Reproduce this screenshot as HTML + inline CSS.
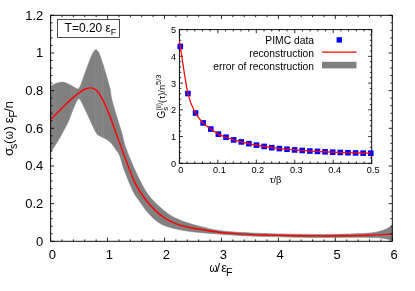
<!DOCTYPE html>
<html>
<head>
<meta charset="utf-8">
<title>Spectral reconstruction</title>
<style>
html,body{margin:0;padding:0;background:#fff;}
body{width:415px;height:291px;overflow:hidden;font-family:"Liberation Sans",sans-serif;}
svg{display:block;}
text{font-family:"Liberation Sans",sans-serif;fill:#000;filter:grayscale(1);}
</style>
</head>
<body>
<svg width="415" height="291" viewBox="0 0 415 291">
<rect width="415" height="291" fill="#fff"/>
<!-- error band -->
<defs><clipPath id="bandclip"><path d="M50.60,86.10 C51.50,85.67 54.13,84.17 56.00,83.50 C57.87,82.83 60.13,82.18 61.80,82.10 C63.47,82.02 64.57,82.52 66.00,83.00 C67.43,83.48 68.98,84.25 70.40,85.00 C71.82,85.75 73.22,86.83 74.50,87.50 C75.78,88.17 77.18,89.17 78.10,89.00 C79.02,88.83 79.28,87.93 80.00,86.50 C80.72,85.07 81.28,83.42 82.40,80.40 C83.52,77.38 85.27,72.27 86.70,68.40 C88.13,64.53 89.87,59.93 91.00,57.20 C92.13,54.47 92.73,53.23 93.50,52.00 C94.27,50.77 94.92,49.97 95.60,49.80 C96.28,49.63 96.93,50.20 97.60,51.00 C98.27,51.80 98.55,51.85 99.60,54.60 C100.65,57.35 102.47,62.92 103.90,67.50 C105.33,72.08 107.13,78.35 108.20,82.10 C109.27,85.85 109.68,87.02 110.30,90.00 C110.92,92.98 110.63,94.90 111.90,100.00 C113.17,105.10 116.18,114.87 117.90,120.60 C119.62,126.33 121.05,130.33 122.20,134.40 C123.35,138.47 123.37,140.65 124.80,145.00 C126.23,149.35 128.65,155.33 130.80,160.50 C132.95,165.67 135.12,170.75 137.70,176.00 C140.28,181.25 143.57,187.75 146.30,192.00 C149.03,196.25 151.08,198.35 154.10,201.50 C157.12,204.65 160.97,208.18 164.40,210.90 C167.83,213.62 170.97,215.85 174.70,217.80 C178.43,219.75 182.58,221.17 186.80,222.60 C191.02,224.03 194.62,225.08 200.00,226.40 C205.38,227.72 211.93,229.47 219.10,230.50 C226.27,231.53 234.52,232.07 243.00,232.60 C251.48,233.13 261.33,233.43 270.00,233.70 C278.67,233.97 286.67,234.08 295.00,234.20 C303.33,234.32 312.50,234.38 320.00,234.40 C327.50,234.42 331.83,234.52 340.00,234.30 C348.17,234.08 361.77,233.78 369.00,233.10 C376.23,232.42 379.68,231.35 383.40,230.20 C387.12,229.05 389.82,226.97 391.30,226.20 C392.78,225.43 392.13,225.70 392.30,225.60 L392.30,240.80 C392.13,240.70 392.78,240.63 391.30,240.20 C389.82,239.77 387.12,238.67 383.40,238.20 C379.68,237.73 376.23,237.53 369.00,237.40 C361.77,237.27 348.17,237.40 340.00,237.40 C331.83,237.40 327.50,237.43 320.00,237.40 C312.50,237.37 303.33,237.33 295.00,237.20 C286.67,237.07 278.67,236.85 270.00,236.60 C261.33,236.35 251.50,236.12 243.00,235.70 C234.50,235.28 226.17,234.65 219.00,234.10 C211.83,233.55 205.08,232.88 200.00,232.40 C194.92,231.92 192.43,231.77 188.50,231.20 C184.57,230.63 180.42,229.95 176.40,229.00 C172.38,228.05 167.83,226.93 164.40,225.50 C160.97,224.07 158.67,222.68 155.80,220.40 C152.93,218.12 149.78,214.82 147.20,211.80 C144.62,208.78 142.32,205.10 140.30,202.30 C138.28,199.50 136.68,197.67 135.10,195.00 C133.52,192.33 132.67,190.62 130.80,186.30 C128.93,181.98 125.77,174.27 123.90,169.10 C122.03,163.93 120.88,158.48 119.60,155.30 C118.32,152.12 117.48,151.90 116.20,150.00 C114.92,148.10 113.52,145.68 111.90,143.90 C110.28,142.12 108.27,140.50 106.50,139.30 C104.73,138.10 102.88,137.62 101.30,136.70 C99.72,135.78 98.28,135.30 97.00,133.80 C95.72,132.30 94.75,130.00 93.60,127.70 C92.45,125.40 91.25,122.50 90.10,120.00 C88.95,117.50 88.05,115.53 86.70,112.70 C85.35,109.87 83.28,105.35 82.00,103.00 C80.72,100.65 80.00,98.68 79.00,98.60 C78.00,98.52 77.17,100.27 76.00,102.50 C74.83,104.73 73.17,109.08 72.00,112.00 C70.83,114.92 70.13,117.38 69.00,120.00 C67.87,122.62 66.98,124.32 65.20,127.70 C63.42,131.08 60.73,136.20 58.30,140.30 C55.87,144.40 51.88,150.30 50.60,152.30 Z"/></clipPath></defs>
<path d="M50.60,86.10 C51.50,85.67 54.13,84.17 56.00,83.50 C57.87,82.83 60.13,82.18 61.80,82.10 C63.47,82.02 64.57,82.52 66.00,83.00 C67.43,83.48 68.98,84.25 70.40,85.00 C71.82,85.75 73.22,86.83 74.50,87.50 C75.78,88.17 77.18,89.17 78.10,89.00 C79.02,88.83 79.28,87.93 80.00,86.50 C80.72,85.07 81.28,83.42 82.40,80.40 C83.52,77.38 85.27,72.27 86.70,68.40 C88.13,64.53 89.87,59.93 91.00,57.20 C92.13,54.47 92.73,53.23 93.50,52.00 C94.27,50.77 94.92,49.97 95.60,49.80 C96.28,49.63 96.93,50.20 97.60,51.00 C98.27,51.80 98.55,51.85 99.60,54.60 C100.65,57.35 102.47,62.92 103.90,67.50 C105.33,72.08 107.13,78.35 108.20,82.10 C109.27,85.85 109.68,87.02 110.30,90.00 C110.92,92.98 110.63,94.90 111.90,100.00 C113.17,105.10 116.18,114.87 117.90,120.60 C119.62,126.33 121.05,130.33 122.20,134.40 C123.35,138.47 123.37,140.65 124.80,145.00 C126.23,149.35 128.65,155.33 130.80,160.50 C132.95,165.67 135.12,170.75 137.70,176.00 C140.28,181.25 143.57,187.75 146.30,192.00 C149.03,196.25 151.08,198.35 154.10,201.50 C157.12,204.65 160.97,208.18 164.40,210.90 C167.83,213.62 170.97,215.85 174.70,217.80 C178.43,219.75 182.58,221.17 186.80,222.60 C191.02,224.03 194.62,225.08 200.00,226.40 C205.38,227.72 211.93,229.47 219.10,230.50 C226.27,231.53 234.52,232.07 243.00,232.60 C251.48,233.13 261.33,233.43 270.00,233.70 C278.67,233.97 286.67,234.08 295.00,234.20 C303.33,234.32 312.50,234.38 320.00,234.40 C327.50,234.42 331.83,234.52 340.00,234.30 C348.17,234.08 361.77,233.78 369.00,233.10 C376.23,232.42 379.68,231.35 383.40,230.20 C387.12,229.05 389.82,226.97 391.30,226.20 C392.78,225.43 392.13,225.70 392.30,225.60 L392.30,240.80 C392.13,240.70 392.78,240.63 391.30,240.20 C389.82,239.77 387.12,238.67 383.40,238.20 C379.68,237.73 376.23,237.53 369.00,237.40 C361.77,237.27 348.17,237.40 340.00,237.40 C331.83,237.40 327.50,237.43 320.00,237.40 C312.50,237.37 303.33,237.33 295.00,237.20 C286.67,237.07 278.67,236.85 270.00,236.60 C261.33,236.35 251.50,236.12 243.00,235.70 C234.50,235.28 226.17,234.65 219.00,234.10 C211.83,233.55 205.08,232.88 200.00,232.40 C194.92,231.92 192.43,231.77 188.50,231.20 C184.57,230.63 180.42,229.95 176.40,229.00 C172.38,228.05 167.83,226.93 164.40,225.50 C160.97,224.07 158.67,222.68 155.80,220.40 C152.93,218.12 149.78,214.82 147.20,211.80 C144.62,208.78 142.32,205.10 140.30,202.30 C138.28,199.50 136.68,197.67 135.10,195.00 C133.52,192.33 132.67,190.62 130.80,186.30 C128.93,181.98 125.77,174.27 123.90,169.10 C122.03,163.93 120.88,158.48 119.60,155.30 C118.32,152.12 117.48,151.90 116.20,150.00 C114.92,148.10 113.52,145.68 111.90,143.90 C110.28,142.12 108.27,140.50 106.50,139.30 C104.73,138.10 102.88,137.62 101.30,136.70 C99.72,135.78 98.28,135.30 97.00,133.80 C95.72,132.30 94.75,130.00 93.60,127.70 C92.45,125.40 91.25,122.50 90.10,120.00 C88.95,117.50 88.05,115.53 86.70,112.70 C85.35,109.87 83.28,105.35 82.00,103.00 C80.72,100.65 80.00,98.68 79.00,98.60 C78.00,98.52 77.17,100.27 76.00,102.50 C74.83,104.73 73.17,109.08 72.00,112.00 C70.83,114.92 70.13,117.38 69.00,120.00 C67.87,122.62 66.98,124.32 65.20,127.70 C63.42,131.08 60.73,136.20 58.30,140.30 C55.87,144.40 51.88,150.30 50.60,152.30 Z" fill="#808080" stroke="#808080" stroke-width="0.6"/>
<path d="M55.0,40 V242 M71.7,40 V242 M74.7,40 V242 M81.6,40 V242 M95.1,40 V242 M98.2,40 V242 M101.5,40 V242 M103.5,40 V242 M147.2,40 V242 M150.7,40 V242 M156.7,40 V242 M170.5,40 V242" stroke="#8f8f8f" stroke-width="0.6" fill="none" clip-path="url(#bandclip)"/>
<!-- reconstruction -->
<path d="M50.80,119.30 C52.05,118.05 55.90,114.20 58.30,111.80 C60.70,109.40 62.90,107.13 65.20,104.90 C67.50,102.67 69.80,100.40 72.10,98.40 C74.40,96.40 77.00,94.38 79.00,92.90 C81.00,91.42 82.25,90.33 84.10,89.50 C85.95,88.67 88.38,88.00 90.10,87.90 C91.82,87.80 93.10,88.22 94.40,88.90 C95.70,89.58 96.75,90.62 97.90,92.00 C99.05,93.38 100.02,94.90 101.30,97.20 C102.58,99.50 104.17,102.65 105.60,105.80 C107.03,108.95 108.57,112.68 109.90,116.10 C111.23,119.52 112.25,122.58 113.60,126.30 C114.95,130.02 116.80,135.12 118.00,138.40 C119.20,141.68 119.23,141.75 120.80,146.00 C122.37,150.25 125.17,158.05 127.40,163.90 C129.63,169.75 132.05,176.42 134.20,181.10 C136.35,185.78 138.13,188.60 140.30,192.00 C142.47,195.40 144.62,198.35 147.20,201.50 C149.78,204.65 152.93,208.18 155.80,210.90 C158.67,213.62 160.97,215.65 164.40,217.80 C167.83,219.95 172.38,222.22 176.40,223.80 C180.42,225.38 184.57,226.38 188.50,227.30 C192.43,228.22 194.92,228.47 200.00,229.30 C205.08,230.13 211.83,231.50 219.00,232.30 C226.17,233.10 234.50,233.63 243.00,234.10 C251.50,234.57 261.33,234.83 270.00,235.10 C278.67,235.37 286.67,235.57 295.00,235.70 C303.33,235.83 312.50,235.88 320.00,235.90 C327.50,235.92 331.83,235.92 340.00,235.80 C348.17,235.68 360.43,235.47 369.00,235.20 C377.57,234.93 387.67,234.37 391.40,234.20" fill="none" stroke="#ff0000" stroke-width="1.45" stroke-linejoin="round"/>
<!-- main frame -->
<path d="M50.60,241.30 v-3.60 M50.60,15.30 v3.60 M61.99,241.30 v-1.90 M61.99,15.30 v1.90 M73.38,241.30 v-1.90 M73.38,15.30 v1.90 M84.77,241.30 v-1.90 M84.77,15.30 v1.90 M96.16,241.30 v-1.90 M96.16,15.30 v1.90 M107.55,241.30 v-3.60 M107.55,15.30 v3.60 M118.94,241.30 v-1.90 M118.94,15.30 v1.90 M130.33,241.30 v-1.90 M130.33,15.30 v1.90 M141.72,241.30 v-1.90 M141.72,15.30 v1.90 M153.11,241.30 v-1.90 M153.11,15.30 v1.90 M164.50,241.30 v-3.60 M164.50,15.30 v3.60 M175.89,241.30 v-1.90 M175.89,15.30 v1.90 M187.28,241.30 v-1.90 M187.28,15.30 v1.90 M198.67,241.30 v-1.90 M198.67,15.30 v1.90 M210.06,241.30 v-1.90 M210.06,15.30 v1.90 M221.45,241.30 v-3.60 M221.45,15.30 v3.60 M232.84,241.30 v-1.90 M232.84,15.30 v1.90 M244.23,241.30 v-1.90 M244.23,15.30 v1.90 M255.62,241.30 v-1.90 M255.62,15.30 v1.90 M267.01,241.30 v-1.90 M267.01,15.30 v1.90 M278.40,241.30 v-3.60 M278.40,15.30 v3.60 M289.79,241.30 v-1.90 M289.79,15.30 v1.90 M301.18,241.30 v-1.90 M301.18,15.30 v1.90 M312.57,241.30 v-1.90 M312.57,15.30 v1.90 M323.96,241.30 v-1.90 M323.96,15.30 v1.90 M335.35,241.30 v-3.60 M335.35,15.30 v3.60 M346.74,241.30 v-1.90 M346.74,15.30 v1.90 M358.13,241.30 v-1.90 M358.13,15.30 v1.90 M369.52,241.30 v-1.90 M369.52,15.30 v1.90 M380.91,241.30 v-1.90 M380.91,15.30 v1.90 M392.30,241.30 v-3.60 M392.30,15.30 v3.60 M50.60,241.30 h3.60 M392.30,241.30 h-3.60 M50.60,233.77 h1.90 M392.30,233.77 h-1.90 M50.60,226.23 h1.90 M392.30,226.23 h-1.90 M50.60,218.70 h1.90 M392.30,218.70 h-1.90 M50.60,211.17 h1.90 M392.30,211.17 h-1.90 M50.60,203.63 h3.60 M392.30,203.63 h-3.60 M50.60,196.10 h1.90 M392.30,196.10 h-1.90 M50.60,188.57 h1.90 M392.30,188.57 h-1.90 M50.60,181.03 h1.90 M392.30,181.03 h-1.90 M50.60,173.50 h1.90 M392.30,173.50 h-1.90 M50.60,165.97 h3.60 M392.30,165.97 h-3.60 M50.60,158.43 h1.90 M392.30,158.43 h-1.90 M50.60,150.90 h1.90 M392.30,150.90 h-1.90 M50.60,143.37 h1.90 M392.30,143.37 h-1.90 M50.60,135.83 h1.90 M392.30,135.83 h-1.90 M50.60,128.30 h3.60 M392.30,128.30 h-3.60 M50.60,120.77 h1.90 M392.30,120.77 h-1.90 M50.60,113.23 h1.90 M392.30,113.23 h-1.90 M50.60,105.70 h1.90 M392.30,105.70 h-1.90 M50.60,98.17 h1.90 M392.30,98.17 h-1.90 M50.60,90.63 h3.60 M392.30,90.63 h-3.60 M50.60,83.10 h1.90 M392.30,83.10 h-1.90 M50.60,75.57 h1.90 M392.30,75.57 h-1.90 M50.60,68.03 h1.90 M392.30,68.03 h-1.90 M50.60,60.50 h1.90 M392.30,60.50 h-1.90 M50.60,52.97 h3.60 M392.30,52.97 h-3.60 M50.60,45.43 h1.90 M392.30,45.43 h-1.90 M50.60,37.90 h1.90 M392.30,37.90 h-1.90 M50.60,30.37 h1.90 M392.30,30.37 h-1.90 M50.60,22.83 h1.90 M392.30,22.83 h-1.90 M50.60,15.30 h3.60 M392.30,15.30 h-3.60" stroke="#000" stroke-width="0.85" fill="none"/>
<rect x="50.6" y="15.3" width="341.70" height="226.00" fill="none" stroke="#000" stroke-width="0.95"/>
<g font-size="13px">
<text x="52.40" y="258.6" text-anchor="middle">0</text>
<text x="109.35" y="258.6" text-anchor="middle">1</text>
<text x="166.30" y="258.6" text-anchor="middle">2</text>
<text x="223.25" y="258.6" text-anchor="middle">3</text>
<text x="280.20" y="258.6" text-anchor="middle">4</text>
<text x="337.15" y="258.6" text-anchor="middle">5</text>
<text x="394.10" y="258.6" text-anchor="middle">6</text>
<text x="43.3" y="245.70" text-anchor="end">0</text>
<text x="43.3" y="208.03" text-anchor="end">0.2</text>
<text x="43.3" y="170.37" text-anchor="end">0.4</text>
<text x="43.3" y="132.70" text-anchor="end">0.6</text>
<text x="43.3" y="95.03" text-anchor="end">0.8</text>
<text x="43.3" y="57.37" text-anchor="end">1</text>
<text x="43.3" y="19.70" text-anchor="end">1.2</text>
</g>
<!-- temperature box -->
<rect x="57.4" y="19.4" width="62" height="18" fill="#fff" stroke="#222" stroke-width="0.8"/>
<text x="64.6" y="32.1" font-size="12px">T=0.20 &#949;<tspan font-size="9px" dy="2.9" dx="-0.3">F</tspan></text>
<!-- axis titles -->
<g transform="translate(0,271.9)"><text transform="translate(209.60,0.00) scale(0.780,1)" font-size="13.00px">&#969;</text><text transform="translate(216.60,0.00) scale(1.000,1)" font-size="13.00px">/</text><text transform="translate(221.30,0.00) scale(1.000,1)" font-size="13.00px">&#949;</text><text transform="translate(225.90,3.90) scale(1.000,1)" font-size="10.80px">F</text></g>
<g transform="translate(13,0) rotate(-90)"><text transform="translate(-155.90,0.00) scale(1.000,1)" font-size="13.40px">&#963;</text><text transform="translate(-148.90,3.80) scale(1.000,1)" font-size="10.60px">s</text><text transform="translate(-143.90,0.00) scale(1.000,1)" font-size="13.40px">(</text><text transform="translate(-139.30,0.00) scale(0.780,1)" font-size="13.40px">&#969;</text><text transform="translate(-130.40,0.00) scale(1.000,1)" font-size="13.40px">)</text><text transform="translate(-123.20,0.00) scale(1.000,1)" font-size="13.40px">&#949;</text><text transform="translate(-117.70,3.90) scale(1.000,1)" font-size="10.80px">F</text><text transform="translate(-112.00,0.00) scale(1.000,1)" font-size="13.40px">/</text><text transform="translate(-108.40,0.00) scale(1.000,1)" font-size="13.40px">n</text></g>
<!-- inset -->
<rect x="179.4" y="29.6" width="192.30" height="133.70" fill="#fff" stroke="none"/>
<path d="M179.40,163.30 v-3.60 M179.40,29.60 v3.60 M187.09,163.30 v-1.90 M187.09,29.60 v1.90 M194.78,163.30 v-1.90 M194.78,29.60 v1.90 M202.48,163.30 v-1.90 M202.48,29.60 v1.90 M210.17,163.30 v-1.90 M210.17,29.60 v1.90 M217.86,163.30 v-3.60 M217.86,29.60 v3.60 M225.55,163.30 v-1.90 M225.55,29.60 v1.90 M233.24,163.30 v-1.90 M233.24,29.60 v1.90 M240.94,163.30 v-1.90 M240.94,29.60 v1.90 M248.63,163.30 v-1.90 M248.63,29.60 v1.90 M256.32,163.30 v-3.60 M256.32,29.60 v3.60 M264.01,163.30 v-1.90 M264.01,29.60 v1.90 M271.70,163.30 v-1.90 M271.70,29.60 v1.90 M279.40,163.30 v-1.90 M279.40,29.60 v1.90 M287.09,163.30 v-1.90 M287.09,29.60 v1.90 M294.78,163.30 v-3.60 M294.78,29.60 v3.60 M302.47,163.30 v-1.90 M302.47,29.60 v1.90 M310.16,163.30 v-1.90 M310.16,29.60 v1.90 M317.86,163.30 v-1.90 M317.86,29.60 v1.90 M325.55,163.30 v-1.90 M325.55,29.60 v1.90 M333.24,163.30 v-3.60 M333.24,29.60 v3.60 M340.93,163.30 v-1.90 M340.93,29.60 v1.90 M348.62,163.30 v-1.90 M348.62,29.60 v1.90 M356.32,163.30 v-1.90 M356.32,29.60 v1.90 M364.01,163.30 v-1.90 M364.01,29.60 v1.90 M371.70,163.30 v-3.60 M371.70,29.60 v3.60 M179.40,163.30 h3.60 M371.70,163.30 h-3.60 M179.40,157.95 h1.90 M371.70,157.95 h-1.90 M179.40,152.60 h1.90 M371.70,152.60 h-1.90 M179.40,147.26 h1.90 M371.70,147.26 h-1.90 M179.40,141.91 h1.90 M371.70,141.91 h-1.90 M179.40,136.56 h3.60 M371.70,136.56 h-3.60 M179.40,131.21 h1.90 M371.70,131.21 h-1.90 M179.40,125.86 h1.90 M371.70,125.86 h-1.90 M179.40,120.52 h1.90 M371.70,120.52 h-1.90 M179.40,115.17 h1.90 M371.70,115.17 h-1.90 M179.40,109.82 h3.60 M371.70,109.82 h-3.60 M179.40,104.47 h1.90 M371.70,104.47 h-1.90 M179.40,99.12 h1.90 M371.70,99.12 h-1.90 M179.40,93.78 h1.90 M371.70,93.78 h-1.90 M179.40,88.43 h1.90 M371.70,88.43 h-1.90 M179.40,83.08 h3.60 M371.70,83.08 h-3.60 M179.40,77.73 h1.90 M371.70,77.73 h-1.90 M179.40,72.38 h1.90 M371.70,72.38 h-1.90 M179.40,67.04 h1.90 M371.70,67.04 h-1.90 M179.40,61.69 h1.90 M371.70,61.69 h-1.90 M179.40,56.34 h3.60 M371.70,56.34 h-3.60 M179.40,50.99 h1.90 M371.70,50.99 h-1.90 M179.40,45.64 h1.90 M371.70,45.64 h-1.90 M179.40,40.30 h1.90 M371.70,40.30 h-1.90 M179.40,34.95 h1.90 M371.70,34.95 h-1.90 M179.40,29.60 h3.60 M371.70,29.60 h-3.60" stroke="#000" stroke-width="0.8" fill="none"/>
<rect x="179.4" y="29.6" width="192.30" height="133.70" fill="none" stroke="#000" stroke-width="0.95"/>
<g fill="#0000ff"><rect x="177.50" y="43.65" width="5.6" height="5.6"/><rect x="185.12" y="90.71" width="5.6" height="5.6"/><rect x="192.74" y="110.23" width="5.6" height="5.6"/><rect x="200.36" y="120.12" width="5.6" height="5.6"/><rect x="207.98" y="126.27" width="5.6" height="5.6"/><rect x="215.60" y="131.35" width="5.6" height="5.6"/><rect x="223.22" y="134.43" width="5.6" height="5.6"/><rect x="230.84" y="137.10" width="5.6" height="5.6"/><rect x="238.46" y="139.11" width="5.6" height="5.6"/><rect x="246.08" y="140.85" width="5.6" height="5.6"/><rect x="253.70" y="142.32" width="5.6" height="5.6"/><rect x="261.32" y="143.65" width="5.6" height="5.6"/><rect x="268.94" y="144.86" width="5.6" height="5.6"/><rect x="276.56" y="145.79" width="5.6" height="5.6"/><rect x="284.18" y="146.46" width="5.6" height="5.6"/><rect x="291.80" y="147.13" width="5.6" height="5.6"/><rect x="299.42" y="147.66" width="5.6" height="5.6"/><rect x="307.04" y="148.20" width="5.6" height="5.6"/><rect x="314.66" y="148.60" width="5.6" height="5.6"/><rect x="322.28" y="149.00" width="5.6" height="5.6"/><rect x="329.90" y="149.40" width="5.6" height="5.6"/><rect x="337.52" y="149.67" width="5.6" height="5.6"/><rect x="345.14" y="149.94" width="5.6" height="5.6"/><rect x="352.76" y="150.15" width="5.6" height="5.6"/><rect x="360.38" y="150.34" width="5.6" height="5.6"/><rect x="368.00" y="150.42" width="5.6" height="5.6"/></g>
<path d="M179.80,43.15 C179.88,43.70 178.95,38.05 180.30,46.45 C181.65,54.84 185.38,82.41 187.92,93.51 C190.46,104.61 193.00,108.13 195.54,113.03 C198.08,117.93 200.62,120.25 203.16,122.92 C205.70,125.60 208.24,127.20 210.78,129.07 C213.32,130.94 215.86,132.79 218.40,134.15 C220.94,135.51 223.48,136.27 226.02,137.23 C228.56,138.19 231.10,139.12 233.64,139.90 C236.18,140.68 238.72,141.28 241.26,141.91 C243.80,142.53 246.34,143.11 248.88,143.65 C251.42,144.18 253.96,144.65 256.50,145.12 C259.04,145.58 261.58,146.03 264.12,146.45 C266.66,146.88 269.20,147.30 271.74,147.66 C274.28,148.01 276.82,148.33 279.36,148.59 C281.90,148.86 284.44,149.04 286.98,149.26 C289.52,149.48 292.06,149.73 294.60,149.93 C297.14,150.13 299.68,150.29 302.22,150.46 C304.76,150.64 307.30,150.84 309.84,151.00 C312.38,151.16 314.92,151.27 317.46,151.40 C320.00,151.53 322.54,151.67 325.08,151.80 C327.62,151.94 330.16,152.09 332.70,152.20 C335.24,152.31 337.78,152.38 340.32,152.47 C342.86,152.56 345.40,152.66 347.94,152.74 C350.48,152.82 353.02,152.88 355.56,152.95 C358.10,153.02 360.64,153.09 363.18,153.14 C365.72,153.18 369.53,153.21 370.80,153.22" fill="none" stroke="#ff0000" stroke-width="1.2" stroke-linejoin="round"/>
<g font-size="9.6px">
<text transform="translate(180.90,172.9) scale(0.96,1)" text-anchor="middle">0</text>
<text transform="translate(219.36,172.9) scale(0.96,1)" text-anchor="middle">0.1</text>
<text transform="translate(257.82,172.9) scale(0.96,1)" text-anchor="middle">0.2</text>
<text transform="translate(296.28,172.9) scale(0.96,1)" text-anchor="middle">0.3</text>
<text transform="translate(334.74,172.9) scale(0.96,1)" text-anchor="middle">0.4</text>
<text transform="translate(373.20,172.9) scale(0.96,1)" text-anchor="middle">0.5</text>
<text transform="translate(176.1,166.90) scale(0.96,1)" text-anchor="end">0</text>
<text transform="translate(176.1,140.16) scale(0.96,1)" text-anchor="end">1</text>
<text transform="translate(176.1,113.42) scale(0.96,1)" text-anchor="end">2</text>
<text transform="translate(176.1,86.68) scale(0.96,1)" text-anchor="end">3</text>
<text transform="translate(176.1,59.94) scale(0.96,1)" text-anchor="end">4</text>
<text transform="translate(176.1,33.20) scale(0.96,1)" text-anchor="end">5</text>
</g>
<text x="275.6" y="182.7" font-size="9.3px" text-anchor="middle">&#964;/&#946;</text>
<g transform="translate(165.3,0) rotate(-90)"><text transform="translate(-118.50,0.00) scale(1.000,1)" font-size="10.00px">G</text><text transform="translate(-110.70,3.10) scale(1.000,1)" font-size="7.60px">s</text><text transform="translate(-110.40,-4.30) scale(0.820,1)" font-size="8.00px">(ii)</text><text transform="translate(-103.00,0.00) scale(1.000,1)" font-size="9.40px">(</text><text transform="translate(-99.40,0.00) scale(1.000,1)" font-size="9.40px">&#964;</text><text transform="translate(-95.80,0.00) scale(1.000,1)" font-size="9.40px">)</text><text transform="translate(-92.80,0.00) scale(1.000,1)" font-size="9.40px">/</text><text transform="translate(-89.90,0.00) scale(1.000,1)" font-size="9.40px">n</text><text transform="translate(-84.90,-4.70) scale(0.930,1)" font-size="8.00px">5/3</text></g>
<!-- legend -->
<g font-size="10.3px" text-anchor="end">
<text x="314" y="44.2">PIMC data</text>
<text x="314" y="56.7">reconstruction</text>
<text x="314" y="69.7">error of reconstruction</text>
</g>
<rect x="336.6" y="37.2" width="5.4" height="5.4" fill="#0000ff"/>
<path d="M322,52.1 H356.5" stroke="#ff0000" stroke-width="1.2"/>
<rect x="322" y="61.8" width="34.5" height="6.6" fill="#808080"/>
</svg>
</body>
</html>
